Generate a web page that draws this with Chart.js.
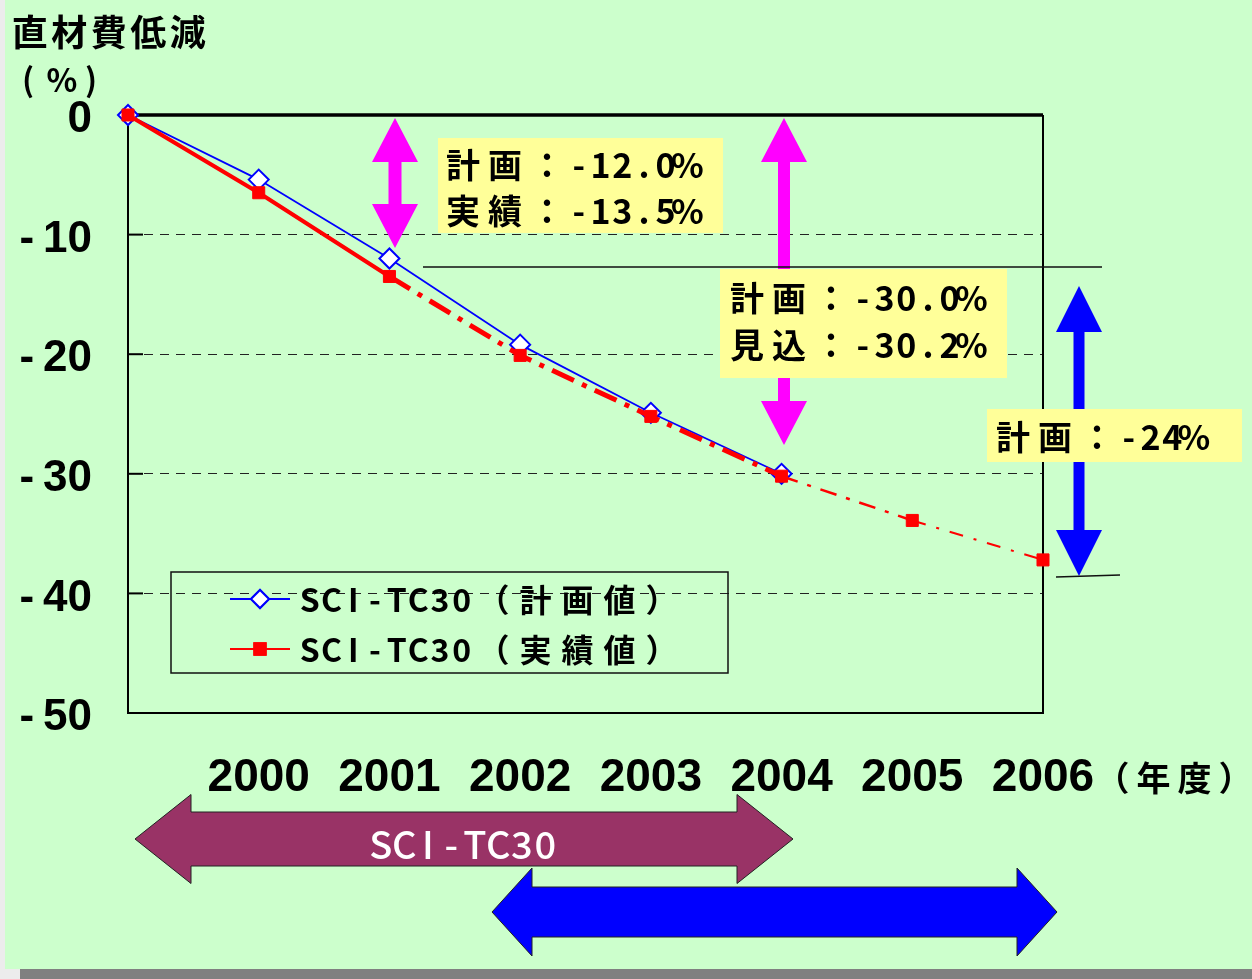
<!DOCTYPE html>
<html>
<head>
<meta charset="utf-8">
<script src="https://cdn.jsdelivr.net/npm/chart.js@4.4.1/dist/chart.umd.min.js"></script>
<style>
  html, body { margin: 0; padding: 0; background: #ccffcc; }
  #wrap { width: 1252px; height: 979px; }
</style>
</head>
<body>
<div id="wrap"><canvas id="chart" width="1252" height="979"></canvas></div>
<script>
// data (x = 0 is the starting point, 1..7 = 2000..2006)
const years = ["2000", "2001", "2002", "2003", "2004", "2005", "2006"];
const planX = [0, 1, 2, 3, 4, 5];
const planValues = [0, -5.4, -12.0, -19.2, -24.9, -30.0];
const actualX = [0, 1, 2, 3, 4, 5, 6, 7];
const actualValues = [0, -6.5, -13.5, -20.1, -25.2, -30.2, -33.9, -37.2];
const yTicks = [0, -10, -20, -30, -40, -50];

const planLabel = "SCI-TC30（計画値）";
const actualLabel = "SCI-TC30（実績値）";

const BG = "#ccffcc";
const YELLOW = "#ffff99";
const MAGENTA = "#ff00ff";
const BLUE = "#0000ff";
const RED = "#ff0000";
const CJK = "'Noto Sans CJK JP'";

// draw text on a fixed grid: full-width chars get `full`, others `half`
function drawMono(ctx, text, x, y, font, full, half, color) {
    ctx.save();
    ctx.font = font;
    ctx.fillStyle = color || "#000";
    ctx.textAlign = "center";
    ctx.textBaseline = "middle";
    let cx = x;
    for (const ch of text) {
        const w = ch.charCodeAt(0) > 0x2e80 ? full : half;
        ctx.fillText(ch, cx + w / 2, y);
        cx += w;
    }
    ctx.restore();
}

function vArrow(ctx, x, yTop, yBot, headW, headL, shaftW, color) {
    ctx.save();
    ctx.fillStyle = color;
    ctx.beginPath();
    ctx.moveTo(x, yTop);
    ctx.lineTo(x + headW / 2, yTop + headL);
    ctx.lineTo(x + shaftW / 2, yTop + headL);
    ctx.lineTo(x + shaftW / 2, yBot - headL);
    ctx.lineTo(x + headW / 2, yBot - headL);
    ctx.lineTo(x, yBot);
    ctx.lineTo(x - headW / 2, yBot - headL);
    ctx.lineTo(x - shaftW / 2, yBot - headL);
    ctx.lineTo(x - shaftW / 2, yTop + headL);
    ctx.lineTo(x - headW / 2, yTop + headL);
    ctx.closePath();
    ctx.fill();
    ctx.restore();
}

function hArrow(ctx, x1, x2, yc, headL, headH, bodyH, fill) {
    ctx.save();
    ctx.fillStyle = fill;
    ctx.strokeStyle = "#222";
    ctx.lineWidth = 1;
    ctx.beginPath();
    ctx.moveTo(x1, yc);
    ctx.lineTo(x1 + headL, yc - headH);
    ctx.lineTo(x1 + headL, yc - bodyH);
    ctx.lineTo(x2 - headL, yc - bodyH);
    ctx.lineTo(x2 - headL, yc - headH);
    ctx.lineTo(x2, yc);
    ctx.lineTo(x2 - headL, yc + headH);
    ctx.lineTo(x2 - headL, yc + bodyH);
    ctx.lineTo(x1 + headL, yc + bodyH);
    ctx.lineTo(x1 + headL, yc + headH);
    ctx.closePath();
    ctx.fill();
    ctx.stroke();
    ctx.restore();
}

const backdrop = {
    id: "backdrop",
    beforeDraw(chart) {
        const ctx = chart.ctx;
        ctx.save();
        ctx.fillStyle = BG;
        ctx.fillRect(0, 0, chart.width, chart.height);
        ctx.fillStyle = "#ececec";
        ctx.fillRect(0, 0, 5, chart.height);
        ctx.fillRect(0, 969, 20, 10);
        ctx.fillStyle = "#808080";
        ctx.fillRect(20, 969, chart.width - 20, 10);
        ctx.restore();
    },
    beforeDatasetsDraw(chart) {
        const ctx = chart.ctx;
        const a = chart.chartArea;
        const ys = chart.scales.y;
        ctx.save();
        ctx.strokeStyle = "#000";
        ctx.lineWidth = 2;
        ctx.beginPath();
        ctx.moveTo(a.left, a.top);
        ctx.lineTo(a.left, a.bottom);
        ctx.lineTo(a.right, a.bottom);
        ctx.lineTo(a.right, a.top);
        ctx.stroke();
        ctx.lineWidth = 3.5;
        ctx.beginPath();
        ctx.moveTo(a.left, a.top);
        ctx.lineTo(a.right, a.top);
        ctx.stroke();
        // short inner ticks on the left axis
        ctx.lineWidth = 2;
        yTicks.forEach(v => {
            const py = ys.getPixelForValue(v);
            ctx.beginPath();
            ctx.moveTo(a.left, py);
            ctx.lineTo(a.left + 15, py);
            ctx.stroke();
        });
        ctx.restore();
    },
    afterDatasetsDraw(chart) {
        const ctx = chart.ctx;

        // magenta and blue range arrows
        vArrow(ctx, 395, 118, 248, 46, 44, 13, MAGENTA);
        vArrow(ctx, 784, 118, 445, 46, 44, 12, MAGENTA);
        vArrow(ctx, 1079, 286, 576, 46, 46, 11, BLUE);

        // reference lines
        ctx.save();
        ctx.strokeStyle = "#111";
        ctx.lineWidth = 1.5;
        ctx.beginPath();
        ctx.moveTo(423, 267);
        ctx.lineTo(1102, 267);
        ctx.moveTo(1056, 577);
        ctx.lineTo(1120, 575);
        ctx.stroke();
        ctx.restore();

        // yellow notes
        ctx.save();
        ctx.fillStyle = YELLOW;
        ctx.fillRect(438, 138, 285, 95);
        ctx.fillRect(720, 269, 287, 109);
        ctx.fillRect(987, 409, 255, 53);
        ctx.restore();
        const noteFont = "bold 34px " + CJK;
        drawMono(ctx, "計画：-12.0%", 442, 165, noteFont, 42, 21.7);
        drawMono(ctx, "実績：-13.5%", 442, 211, noteFont, 42, 21.7);
        drawMono(ctx, "計画：-30.0%", 726, 298, noteFont, 42, 21.7);
        drawMono(ctx, "見込：-30.2%", 726, 345, noteFont, 42, 21.7);
        drawMono(ctx, "計画：-24%", 992, 437, noteFont, 42, 21.7);

        // legend
        ctx.save();
        ctx.strokeStyle = "#111";
        ctx.lineWidth = 1.5;
        ctx.strokeRect(171, 572, 557, 101);
        const rows = [
            { ds: chart.data.datasets[0], y: 599 },
            { ds: chart.data.datasets[1], y: 649 }
        ];
        rows.forEach(r => {
            ctx.strokeStyle = r.ds.borderColor;
            ctx.lineWidth = 2;
            ctx.beginPath();
            ctx.moveTo(230, r.y);
            ctx.lineTo(290, r.y);
            ctx.stroke();
            Chart.helpers.drawPoint(ctx, {
                pointStyle: r.ds.pointStyle,
                radius: r.ds.pointStyle === "rectRot" ? 9 : 8,
                borderWidth: r.ds.pointBorderWidth
            }, 260, r.y);
            ctx.fillStyle = r.ds.pointBackgroundColor;
            ctx.strokeStyle = r.ds.pointBorderColor;
            ctx.fill();
            ctx.stroke();
            drawMono(ctx, r.ds.label, 299, r.y + 1, "bold 32px " + CJK, 42, 21.7);
        });
        ctx.restore();

        // titles
        drawMono(ctx, "直材費低減", 10, 32, "bold 36px " + CJK, 39.5, 20);
        ctx.save();
        ctx.font = "bold 32px " + CJK;
        ctx.fillStyle = "#000";
        ctx.textAlign = "center";
        ctx.textBaseline = "middle";
        ctx.fillText("(", 28, 80);
        ctx.fillText("%", 62, 80);
        ctx.fillText(")", 91, 80);
        ctx.restore();
        drawMono(ctx, "（年度）", 1092, 778, "bold 34px " + CJK, 41, 20);

        // period arrows under the axis
        hArrow(ctx, 135, 793, 839, 56, 44.5, 27, "#993366");
        drawMono(ctx, "SCI-TC30", 369, 845, "500 38px " + CJK, 46, 23.5, "#fff");
        hArrow(ctx, 492, 1057, 912, 40, 44, 25, BLUE);
    }
};

function redWidth(i) {
    if (i < 2) return 4;
    if (i < 5) return 5;
    if (i < 6) return 2.5;
    return 2;
}
function redDash(i) {
    if (i < 2) return [];
    if (i < 5) return [24, 9, 5, 9];
    if (i < 6) return [17, 10, 4, 10];
    return [14, 11, 3, 11];
}

new Chart(document.getElementById("chart"), {
    type: "line",
    data: {
        datasets: [
            {
                label: planLabel,
                data: planX.map((x, i) => ({ x: x, y: planValues[i] })),
                borderColor: BLUE,
                borderWidth: 1.8,
                pointStyle: "rectRot",
                pointRadius: 10,
                pointBorderWidth: 2,
                pointBackgroundColor: "#fff",
                pointBorderColor: BLUE,
                clip: false,
                order: 1
            },
            {
                label: actualLabel,
                data: actualX.map((x, i) => ({ x: x, y: actualValues[i] })),
                borderColor: RED,
                borderWidth: 4,
                pointStyle: "rect",
                pointRadius: 8.5,
                pointBorderWidth: 1,
                pointBackgroundColor: RED,
                pointBorderColor: RED,
                clip: false,
                order: 0,
                segment: {
                    borderWidth: ctx => redWidth(ctx.p0DataIndex),
                    borderDash: ctx => redDash(ctx.p0DataIndex)
                }
            }
        ]
    },
    options: {
        responsive: false,
        animation: false,
        devicePixelRatio: 1,
        layout: { padding: { left: 0, top: 115, right: 209, bottom: 0 } },
        plugins: {
            legend: { display: false },
            tooltip: { enabled: false }
        },
        scales: {
            x: {
                type: "linear",
                min: 0,
                max: 7,
                afterFit: s => { s.height = 266; },
                afterBuildTicks: s => { s.ticks = actualX.map(v => ({ value: v })); },
                grid: { display: false, drawTicks: false },
                border: { display: false },
                ticks: {
                    padding: 38,
                    color: "#000",
                    font: { family: "Liberation Sans", size: 46, weight: "bold" },
                    callback: v => (v >= 1 ? years[v - 1] : "")
                }
            },
            y: {
                min: -50,
                max: 0,
                afterFit: s => { s.width = 128; },
                afterBuildTicks: s => { s.ticks = yTicks.map(v => ({ value: v })); },
                grid: {
                    drawTicks: false,
                    lineWidth: 1,
                    color: c => (c.tick && (c.tick.value === 0 || c.tick.value === -50)) ? "rgba(0,0,0,0)" : "#222"
                },
                border: { display: false, dash: [9, 7] },
                ticks: {
                    padding: 36,
                    labelOffset: 5,
                    color: "#000",
                    font: { family: "Liberation Sans", size: 44, weight: "bold" },
                    callback: v => (v < 0 ? "-\u2009" + Math.abs(v) : String(v))
                }
            }
        }
    },
    plugins: [backdrop]
});
</script>
</body>
</html>
